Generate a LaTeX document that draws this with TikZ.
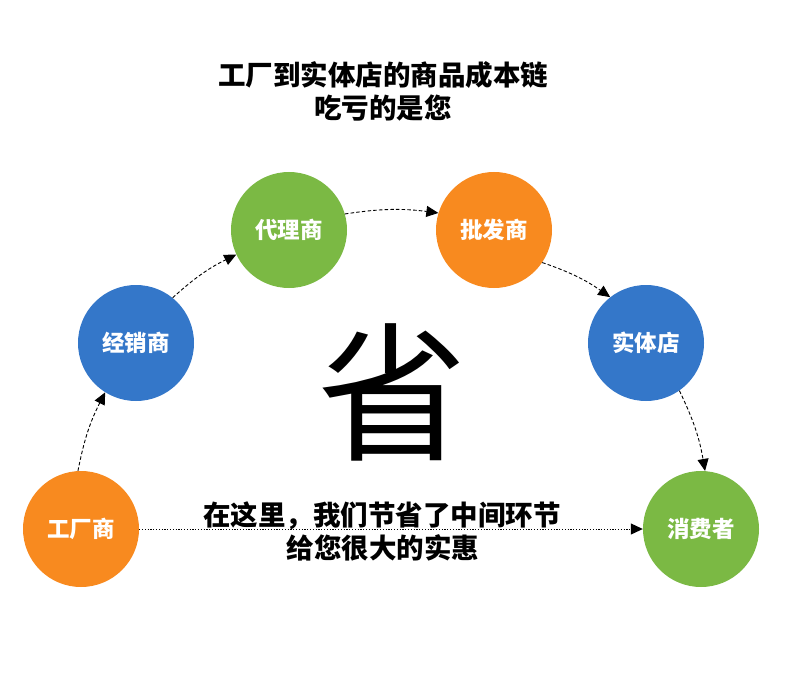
\documentclass[tikz,border=0pt]{standalone}
\usepackage{fontspec}
\setmainfont{Noto Sans CJK SC}
\newfontfamily\cjk{Noto Sans CJK SC}
\usetikzlibrary{arrows.meta}
\definecolor{corange}{HTML}{F88A1F}
\definecolor{cblue}{HTML}{3477C9}
\definecolor{cgreen}{HTML}{7BB944}
\tikzset{
  bubble/.style={circle, minimum size=116pt, inner sep=0pt, text=white, font=\cjk\bfseries\fontsize{22.5}{24}\selectfont},
  flow/.style={line width=0.9pt, dash pattern=on 3.5pt off 2.2pt, -{Triangle[length=12pt,width=11pt]}},
  direct/.style={line width=1pt, dash pattern=on 1.2pt off 1.6pt, -{Triangle[length=12pt,width=11pt]}},
  bigtext/.style={font=\cjk\bfseries\fontsize{27.5}{32}\selectfont, text=black}
}
\begin{document}
\begin{tikzpicture}[x=1pt,y=-1pt]
\useasboundingbox (0,0) rectangle (790,687);
\node[bigtext] (t1) at (383,75) {工厂到实体店的商品成本链};
\node[bigtext] (t2) at (383,108) {吃亏的是您};
\node[font=\cjk\fontsize{150}{150}\selectfont] (sheng) at (392,392) {省};
\node[bigtext] (b1) at (382,516) {在这里，我们节省了中间环节};
\node[bigtext] (b2) at (383,548) {给您很大的实惠};
\node[bubble, fill=corange] (f) at (81,529) {工厂商};
\node[bubble, fill=cblue] (j) at (136,343) {经销商};
\node[bubble, fill=cgreen] (d) at (289,230) {代理商};
\node[bubble, fill=corange] (p) at (494,230) {批发商};
\node[bubble, fill=cblue] (s) at (646,343) {实体店};
\node[bubble, fill=cgreen] (x) at (701,529) {消费者};
\draw[flow] (f.93) to[bend left=8] (j.-122);
\draw[flow] (j.51) to[bend left=8] (d.205);
\draw[flow] (d.16) to[bend left=8] (p.163);
\draw[flow] (p.-34) to[bend left=8] (s.128);
\draw[flow] (s.-55) to[bend left=8] (x.86);
\draw[direct] (f.east) -- (x.west);
\end{tikzpicture}
\end{document}
